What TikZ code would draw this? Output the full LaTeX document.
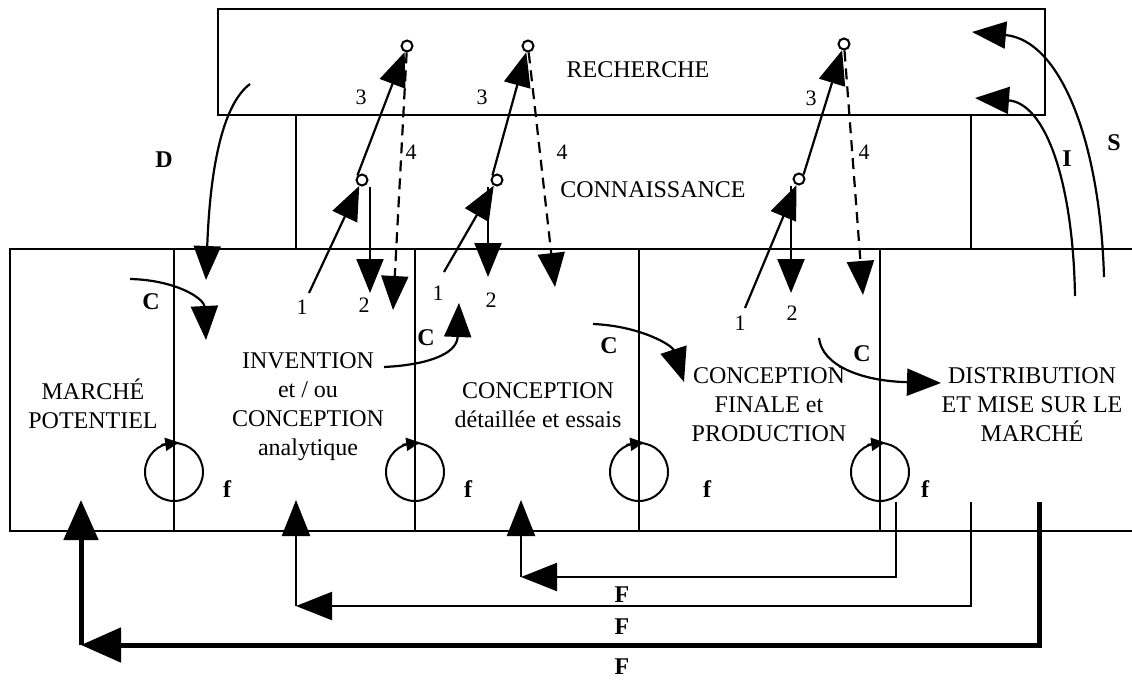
\documentclass[tikz,border=0pt]{standalone}
\usepackage{fontspec}
\setmainfont{Liberation Serif}
\usetikzlibrary{arrows.meta}
\tikzset{
 BoxStyle/.style={line width=2pt},
 TextStyle/.style={font=\fontsize{24}{29}\selectfont, align=center, anchor=base, inner sep=0pt},
 NumStyle/.style={font=\fontsize{22}{22}\selectfont, inner sep=0pt},
 LetterStyle/.style={font=\fontsize{24}{24}\selectfont\bfseries, inner sep=0pt},
 DotStyle/.style={circle, draw, line width=2pt, minimum size=11pt, inner sep=0pt, fill=white},
 EdgeStyle/.style={line width=2.2pt, -{Triangle[length=34pt,width=27pt]}},
 DashStyle/.style={dash pattern=on 11pt off 7pt},
 LoopStyle/.style={circle, draw, line width=2pt, minimum size=58pt, inner sep=0pt},
 LoopTip/.style={line width=2pt, -{Triangle[length=14pt,width=13pt]}},
 FStyle/.style={line width=2.2pt, -{Triangle[length=36pt,width=28pt]}},
 FThick/.style={line width=5pt, -{Triangle[length=40pt,width=34pt]}}
}
\begin{document}
\begin{tikzpicture}[x=1pt, y=-1pt]
\useasboundingbox (0,0) rectangle (1132,680);
\draw[BoxStyle] (218,9) rectangle (1045,115);
\draw[BoxStyle] (296,249) -- (296,115) (971,115) -- (971,249);
\draw[BoxStyle] (1132,249) -- (10,249) -- (10,531) -- (1132,531);
\foreach \x in {174,415,639,880} \draw[BoxStyle] (\x,249) -- (\x,531);
\node[TextStyle] (rech) at (638,77) {RECHERCHE};
\node[TextStyle] (conn) at (653,197) {CONNAISSANCE};
\node[TextStyle] (marche) at (93,428) {MARCHÉ\\POTENTIEL};
\node[TextStyle] (inv) at (308,455) {INVENTION\\et / ou\\CONCEPTION\\analytique};
\node[TextStyle] (detail) at (538,427) {CONCEPTION\\détaillée et essais};
\node[TextStyle] (prod) at (769,441) {CONCEPTION\\FINALE et\\PRODUCTION};
\node[TextStyle] (distr) at (1032,441) {DISTRIBUTION\\ET MISE SUR LE\\MARCHÉ};
\node[DotStyle] (t1) at (407,46) {};
\node[DotStyle] (t2) at (528,46) {};
\node[DotStyle] (t3) at (844,44) {};
\node[DotStyle] (m1) at (362,180) {};
\node[DotStyle] (m2) at (497,180) {};
\node[DotStyle] (m3) at (799,179) {};
\coordinate (a1) at (309,293);
\coordinate (a2) at (370,293);
\coordinate (a4) at (393,310);
\coordinate (b1) at (444,272);
\coordinate (b2) at (488,277);
\coordinate (b4) at (555,287);
\coordinate (c1) at (745,308);
\coordinate (c2) at (791,293);
\coordinate (c4) at (863,295);
\draw[EdgeStyle] (a1) -- (m1);
\draw[EdgeStyle] (a2 |- m1.south) -- (a2);
\draw[EdgeStyle] (m1.135) -- (t1);
\draw[EdgeStyle, DashStyle] (t1) -- (a4);
\draw[EdgeStyle] (b1) -- (m2);
\draw[EdgeStyle] (b2 |- m2.south) -- (b2);
\draw[EdgeStyle] (m2.135) -- (t2);
\draw[EdgeStyle, DashStyle] (t2) -- (b4);
\draw[EdgeStyle] (c1) -- (m3);
\draw[EdgeStyle] (c2 |- m3.south) -- (c2);
\draw[EdgeStyle] (m3.north east) -- (t3);
\draw[EdgeStyle, DashStyle] (t3) -- (c4);
\node[NumStyle] (n1a) at (302,307) {1};
\node[NumStyle] (n2a) at (364,305) {2};
\node[NumStyle] (n3a) at (361,97) {3};
\node[NumStyle] (n4a) at (411,152) {4};
\node[NumStyle] (n1b) at (438,293) {1};
\node[NumStyle] (n2b) at (491,300) {2};
\node[NumStyle] (n3b) at (482,97) {3};
\node[NumStyle] (n4b) at (562,152) {4};
\node[NumStyle] (n1c) at (740,323) {1};
\node[NumStyle] (n2c) at (792,313) {2};
\node[NumStyle] (n3c) at (811,98) {3};
\node[NumStyle] (n4c) at (864,152) {4};
\coordinate (d0) at (250,84);
\coordinate (d1) at (206,280);
\draw[EdgeStyle] (d0) .. controls (222,105) and (210,170) .. (d1);
\node[LetterStyle] (D) at (164,160) {D};
\coordinate (k1s) at (130,279);
\coordinate (k1e) at (206,340);
\draw[EdgeStyle] (k1s) .. controls (175,280) and (204,298) .. (k1e);
\coordinate (k2s) at (384,367);
\coordinate (k2e) at (459,303);
\draw[EdgeStyle] (k2s) .. controls (425,365) and (457,355) .. (k2e);
\coordinate (k3s) at (593,324);
\coordinate (k3e) at (684,382);
\draw[EdgeStyle] (k3s) .. controls (640,326) and (672,345) .. (k3e);
\coordinate (k4s) at (819,338);
\coordinate (k4e) at (941,383);
\draw[EdgeStyle] (k4s) .. controls (822,365) and (860,381) .. (k4e);
\node[LetterStyle] (C1) at (151,302) {C};
\node[LetterStyle] (C2) at (426,338) {C};
\node[LetterStyle] (C3) at (609,346) {C};
\node[LetterStyle] (C4) at (862,354) {C};
\coordinate (is) at (1075,296);
\coordinate (ie) at (975,98);
\draw[EdgeStyle] (is) .. controls (1073,180) and (1045,103) .. (ie);
\coordinate (ss) at (1104,277);
\coordinate (se) at (972,32);
\draw[EdgeStyle] (ss) .. controls (1100,140) and (1060,40) .. (se);
\node[LetterStyle] (I) at (1067,159) {I};
\node[LetterStyle] (S) at (1114,143) {S};
\foreach \x/\n in {174/1,415/2,639/3,880/4}{
 \node[LoopStyle] (l\n) at (\x,472) {};
 \draw[LoopTip] (l\n.115) -- (l\n.80);
}
\node[LetterStyle] (f1) at (227,489) {f};
\node[LetterStyle] (f2) at (468,489) {f};
\node[LetterStyle] (f3) at (707,489) {f};
\node[LetterStyle] (f4) at (925,489) {f};
\coordinate (f1s) at (896,502);
\coordinate (f1c) at (521,577);
\coordinate (f1e) at (521,500);
\coordinate (f2s) at (971,502);
\coordinate (f2c) at (296,606);
\coordinate (f2e) at (296,500);
\coordinate (f3s) at (1039,502);
\coordinate (f3c) at (81,645);
\coordinate (f3e) at (81,500);
\draw[FStyle] (f1s) |- (f1c);
\draw[FStyle] (f1c) -- (f1e);
\draw[FStyle] (f2s) |- (f2c);
\draw[FStyle] (f2c) -- (f2e);
\draw[FThick] (f3s) |- (f3c);
\draw[FThick] (f3c) -- (f3e);
\node[LetterStyle] (F1) at (622,595) {F};
\node[LetterStyle] (F2) at (622,627) {F};
\node[LetterStyle] (F3) at (622,667) {F};
\end{tikzpicture}
\end{document}
